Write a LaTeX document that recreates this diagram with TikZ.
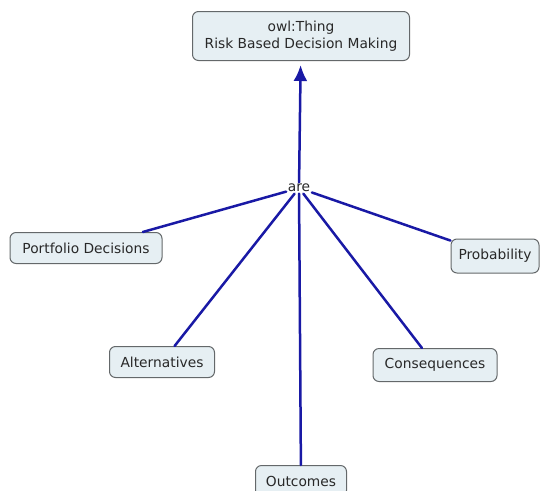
\documentclass[tikz,border=0pt]{standalone}
\usepackage{fontspec}
\setmainfont{DejaVu Sans}
\usetikzlibrary{arrows.meta}
\definecolor{linkblue}{RGB}{25,25,165}
\definecolor{conceptfill}{RGB}{230,239,243}
\definecolor{conceptdraw}{RGB}{100,104,106}
\definecolor{concepttext}{RGB}{40,40,40}
\begin{document}
\begin{tikzpicture}[x=1pt,y=-1pt,line cap=round,line join=round,
  concept/.style={draw=conceptdraw,fill=conceptfill,rounded corners=6pt,line width=1pt,
    inner sep=2pt,minimum height=31pt,align=center,text=concepttext,
    font=\fontsize{13.8}{17}\selectfont},
  link/.style={draw=linkblue,line width=2.5pt}]
  \useasboundingbox (0,0) rectangle (540,490);
  % concepts
  \node[concept,minimum width=217pt,minimum height=49pt] (thing) at (301,36) {owl:Thing\\Risk Based Decision Making};
  \node[fill=white,inner sep=1.5pt,text=concepttext,font=\fontsize{13.8}{16}\selectfont] (are) at (299,188) {are};
  \node[concept,minimum width=152pt] (portfolio) at (86,248) {Portfolio Decisions};
  \node[concept,minimum width=88pt,minimum height=34pt] (probability) at (495,256) {Probability};
  \node[concept,minimum width=105pt] (alternatives) at (162,362) {Alternatives};
  \node[concept,minimum width=124pt,minimum height=33pt] (consequences) at (435,365) {Consequences};
  \node[concept,minimum width=91pt] (outcomes) at (301,481) {Outcomes};
  % links
  \draw[link,-{Latex[length=16pt,width=14pt]},shorten >=4pt] (are) -- (thing);
  \foreach \c in {portfolio,probability,alternatives,consequences,outcomes}
    \draw[link] (are) -- (\c);
\end{tikzpicture}
\end{document}
